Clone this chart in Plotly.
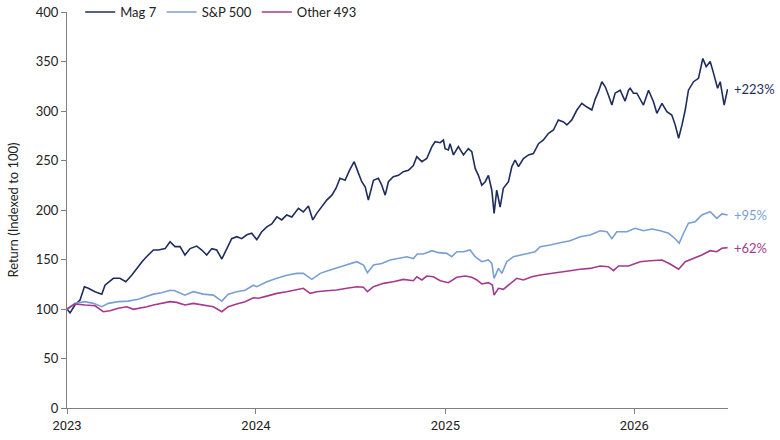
import pandas as pd
import plotly.graph_objects as go

# time stamps are decimal years
mag7_t = [2023.000, 2023.016, 2023.042, 2023.069, 2023.092, 2023.113, 2023.148, 2023.184, 2023.201, 2023.245,
          2023.280, 2023.311, 2023.342, 2023.369, 2023.398, 2023.422, 2023.457, 2023.483, 2023.519, 2023.545,
          2023.571, 2023.598, 2023.624, 2023.651, 2023.686, 2023.713, 2023.739, 2023.766, 2023.792, 2023.819,
          2023.845, 2023.871, 2023.898, 2023.924, 2023.951, 2023.977, 2024.004, 2024.030, 2024.057, 2024.083,
          2024.110, 2024.136, 2024.162, 2024.189, 2024.224, 2024.250, 2024.277, 2024.300, 2024.321, 2024.348,
          2024.374, 2024.401, 2024.423, 2024.444, 2024.471, 2024.494, 2024.519, 2024.536, 2024.559, 2024.577,
          2024.594, 2024.621, 2024.647, 2024.665, 2024.683, 2024.700, 2024.726, 2024.753, 2024.779, 2024.806,
          2024.832, 2024.850, 2024.877, 2024.903, 2024.930, 2024.947, 2024.974, 2024.991, 2025.000, 2025.017,
          2025.026, 2025.044, 2025.070, 2025.097, 2025.123, 2025.141, 2025.159, 2025.176, 2025.194, 2025.212,
          2025.229, 2025.247, 2025.259, 2025.273, 2025.291, 2025.308, 2025.335, 2025.353, 2025.370, 2025.388,
          2025.414, 2025.441, 2025.467, 2025.494, 2025.520, 2025.547, 2025.573, 2025.599, 2025.626, 2025.644,
          2025.670, 2025.697, 2025.723, 2025.750, 2025.776, 2025.794, 2025.811, 2025.829, 2025.847, 2025.864,
          2025.882, 2025.899, 2025.926, 2025.952, 2025.970, 2025.979, 2025.996, 2026.014, 2026.049, 2026.076,
          2026.102, 2026.120, 2026.147, 2026.173, 2026.199, 2026.217, 2026.235, 2026.253, 2026.270, 2026.287,
          2026.314, 2026.340, 2026.363, 2026.381, 2026.402, 2026.420, 2026.441, 2026.455, 2026.476, 2026.494]
mag7_v = [100, 96, 104, 109, 122.5, 121, 117.5, 115, 124, 131,
          131, 127.6, 134, 141, 148, 153, 159.6, 159.6, 161, 168,
          163, 163, 154.5, 161, 163.6, 159.6, 154.5, 161, 159.6, 150.5,
          161, 171, 173, 171, 175, 176.5, 170, 178, 183, 186,
          193, 190, 195, 193, 201.7, 198, 204, 190, 196.6, 203,
          210, 215, 222, 232, 230, 240, 248.8, 240, 228.6, 223.5,
          210, 230, 232, 225, 215, 228.6, 233.6, 235, 238.7, 240,
          245, 253.8, 248.8, 252, 264, 269, 268, 270.7, 262, 260.6,
          267, 255.6, 264, 255.6, 262, 259, 242, 235, 225, 228.6,
          235, 220, 196.6, 220, 203, 222, 228.6, 243.8, 250.5, 243.8,
          252, 255.6, 257, 267, 270.7, 277.5, 280.8, 291, 289, 285.9,
          291, 301, 307.8, 304, 301, 312, 319.5, 329.6, 324.5, 316,
          306, 318, 321, 310, 321, 323, 318, 318, 306, 321,
          309.4, 297.7, 307.8, 299.3, 296, 286, 272.4, 286, 301, 321,
          329.6, 333, 353, 344.8, 350, 338, 323, 329.6, 306, 322]

sp500_t = [2023.000, 2023.042, 2023.095, 2023.139, 2023.184, 2023.219, 2023.271, 2023.324, 2023.377, 2023.413,
           2023.457, 2023.501, 2023.545, 2023.571, 2023.624, 2023.668, 2023.721, 2023.774, 2023.819, 2023.853,
           2023.898, 2023.942, 2023.986, 2024.004, 2024.057, 2024.110, 2024.162, 2024.215, 2024.250, 2024.295,
           2024.339, 2024.392, 2024.444, 2024.488, 2024.533, 2024.568, 2024.589, 2024.621, 2024.665, 2024.709,
           2024.753, 2024.797, 2024.832, 2024.853, 2024.885, 2024.930, 2024.965, 2025.009, 2025.035, 2025.062,
           2025.097, 2025.132, 2025.159, 2025.194, 2025.229, 2025.247, 2025.259, 2025.282, 2025.300, 2025.326,
           2025.361, 2025.397, 2025.432, 2025.476, 2025.503, 2025.556, 2025.608, 2025.661, 2025.714, 2025.767,
           2025.820, 2025.856, 2025.882, 2025.908, 2025.961, 2026.005, 2026.049, 2026.094, 2026.138, 2026.182,
           2026.217, 2026.238, 2026.261, 2026.287, 2026.323, 2026.358, 2026.402, 2026.437, 2026.464, 2026.494]
sp500_v = [100, 105.7, 107.4, 105.7, 102.3, 105.7, 107.4, 108, 109.8, 112.4,
           115, 116.5, 119, 118.5, 114, 117.5, 115, 114, 108, 115,
           117.5, 119, 124, 122.5, 127.6, 131, 134, 136, 136, 130,
           136, 139.4, 142.7, 145.5, 147.8, 144.4, 136.7, 144.4, 146, 149.5,
           151, 152.8, 151, 155.5, 155.5, 158.9, 156.9, 156.2, 152.8, 157.9,
           157.9, 159.6, 152.8, 147.8, 149.5, 146, 131, 141, 136, 147.8,
           152.8, 154.5, 156.2, 157.9, 163, 164.6, 167, 169, 173, 174.7,
           179, 178, 171, 178, 178, 181.5, 179, 180.8, 179, 176.5,
           171, 166.4, 176.5, 186.6, 188.2, 195, 198.3, 191.6, 196, 195]

other_t = [2023.000, 2023.042, 2023.095, 2023.148, 2023.192, 2023.228, 2023.271, 2023.316, 2023.351, 2023.386,
           2023.422, 2023.457, 2023.501, 2023.545, 2023.580, 2023.624, 2023.668, 2023.721, 2023.774, 2023.819,
           2023.853, 2023.898, 2023.942, 2023.986, 2024.012, 2024.057, 2024.110, 2024.162, 2024.215, 2024.250,
           2024.286, 2024.321, 2024.374, 2024.427, 2024.480, 2024.533, 2024.568, 2024.589, 2024.621, 2024.674,
           2024.726, 2024.779, 2024.832, 2024.850, 2024.877, 2024.903, 2024.938, 2024.974, 2025.017, 2025.062,
           2025.106, 2025.141, 2025.168, 2025.194, 2025.229, 2025.250, 2025.259, 2025.282, 2025.308, 2025.344,
           2025.379, 2025.414, 2025.459, 2025.503, 2025.556, 2025.608, 2025.661, 2025.714, 2025.767, 2025.820,
           2025.864, 2025.891, 2025.917, 2025.970, 2026.032, 2026.085, 2026.147, 2026.190, 2026.235, 2026.270,
           2026.314, 2026.358, 2026.402, 2026.437, 2026.464, 2026.494]
other_v = [100, 105, 104, 103.3, 97.3, 98.3, 100.7, 102.3, 99.7, 100.7,
           102.3, 104, 105.7, 107.4, 106.7, 104, 105.7, 104, 102.3, 97.3,
           102.3, 105, 107.4, 111.4, 110.8, 113, 115.8, 117.5, 119.9, 120.9,
           115.8, 117.5, 118.5, 119.2, 120.9, 122.5, 121.9, 117.5, 122.5, 125.9,
           127.6, 129.9, 128.6, 132.6, 129.3, 133.3, 132.6, 128.5, 126.6, 132,
           133.3, 132, 129.3, 125.3, 126.6, 124.2, 114, 120.9, 119.9, 125.3,
           131, 129.3, 132.6, 134.3, 136, 137.7, 138.7, 140.1, 141, 143.4,
           142.7, 138.7, 143.4, 143.5, 147.8, 148.8, 149.5, 145.5, 140.1, 147.8,
           151.2, 154.5, 158.9, 157.9, 161.3, 162]

series_names = ["Mag 7", "S&P 500", "Other 493"]
end_labels = ["+223%", "+95%", "+62%"]
colors = ["#1f2d5e", "#7a9fd3", "#a53a8c"]
x_ticks = ["2023-01-01", "2024-01-01", "2025-01-01", "2026-01-01"]
x_tick_text = ["2023", "2024", "2025", "2026"]


def to_dates(ts):
    base = pd.Timestamp("2023-01-01")
    return [base + pd.Timedelta(days=(t - 2023.0) * 365.25) for t in ts]


fig = go.Figure()
all_data = [(mag7_t, mag7_v), (sp500_t, sp500_v), (other_t, other_v)]
for (ts, vs), name, col, lab in zip(all_data, series_names, colors, end_labels):
    d = to_dates(ts)
    fig.add_trace(go.Scatter(x=d, y=vs, mode="lines", name=name,
                             line=dict(color=col, width=1.6)))
    fig.add_annotation(x=d[-1], y=vs[-1], text=lab, showarrow=False,
                       xanchor="left", yanchor="middle", xshift=4,
                       font=dict(color=col, size=13, family="Lato"))

fig.update_layout(
    width=780, height=440,
    margin=dict(l=67, r=52, t=12, b=32, autoexpand=False),
    paper_bgcolor="white", plot_bgcolor="white",
    font=dict(family="Lato", size=13, color="#222"),
    legend=dict(orientation="h", x=0.02, y=1.0, xanchor="left", yanchor="middle",
                font=dict(size=13, color="#222"), itemwidth=30, bgcolor="rgba(0,0,0,0)"),
    xaxis=dict(range=["2023-01-01", "2026-07-01"], tickvals=x_ticks, ticktext=x_tick_text,
               showgrid=False, zeroline=False, showline=True, linecolor="#808080", linewidth=1,
               ticks="outside", ticklen=5, tickcolor="#808080",
               tickfont=dict(family="Liberation Sans Narrow, Roboto", size=13, color="#222")),
    yaxis=dict(range=[0, 400], dtick=50, showgrid=False, zeroline=False, showline=True,
               linecolor="#808080", linewidth=1, ticks="outside", ticklen=5, tickcolor="#808080",
               title=dict(text="Return (Indexed to 100)", font=dict(size=13, color="#222"), standoff=14)),
)

fig.write_html("out.html")
